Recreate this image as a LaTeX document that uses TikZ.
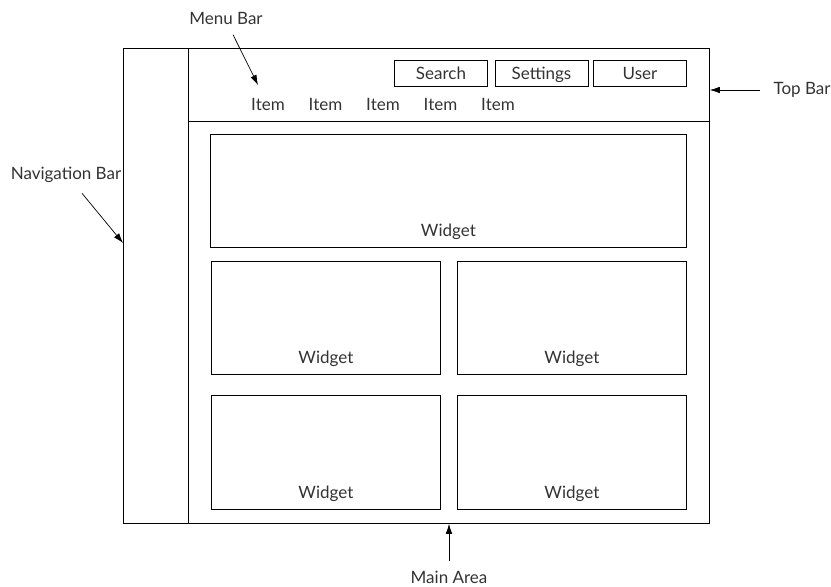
\documentclass[tikz,border=0pt]{standalone}
\usepackage{fontspec}
\setmainfont{Lato}
\usetikzlibrary{calc,positioning,arrows.meta}
\tikzset{
  frame/.style={draw, line width=0.8pt, inner sep=0pt, anchor=north west},
  btn/.style={draw, line width=0.8pt, minimum width=93pt, minimum height=26pt, inner sep=0pt,
    text height=13pt, text depth=1pt},
  txt/.style={text=black!80, font=\fontsize{17}{20}\selectfont},
  ptr/.style={-{Latex[length=10pt,width=6.5pt]}, line width=0.7pt}
}
\begin{document}
\begin{tikzpicture}[x=1pt,y=-1pt]
  \useasboundingbox (0,0) rectangle (831,587);
  % screen layout
  \node[frame, minimum width=586pt, minimum height=475pt] (window) at (123,48) {};
  \node[frame, minimum width=65pt, minimum height=475pt] (navbar) at (123,48) {};
  \node[frame, minimum width=521pt, minimum height=73pt] (topbar) at (188,48) {};
  \node[frame, minimum width=521pt, minimum height=402pt] (mainarea) at (188,121) {};
  % top bar contents
  \node[btn, txt] (search) at (441,73.5) {Search};
  \node[btn, txt] (settings) at (541.5,73.5) {Settings};
  \node[btn, txt] (user) at (640,73.5) {User};
  \foreach \i/\x in {1/268,2/325.5,3/383,4/440.5,5/498}
    \node[txt] (item\i) at (\x,104) {Item};
  % widgets
  \node[frame, minimum width=476pt, minimum height=113pt] (widget1) at (210,134) {};
  \node[frame, minimum width=229pt, minimum height=113pt] (widget2) at (211,261) {};
  \node[frame, minimum width=229pt, minimum height=113pt] (widget3) at (457,261) {};
  \node[frame, minimum width=229pt, minimum height=114pt] (widget4) at (211,395) {};
  \node[frame, minimum width=229pt, minimum height=114pt] (widget5) at (457,395) {};
  \foreach \w in {1,...,5}
    \node[txt] (wlabel\w) at ($(widget\w.south)+(0,-16)$) {Widget};
  % callouts
  \node[txt] (menulbl) at (226,18) {Menu Bar};
  \coordinate (menutip) at (258,85);
  \draw[ptr] ([xshift=7pt,yshift=-7pt]menulbl.south) -- (menutip);
  \node[txt] (navlbl) at (66,175) {Navigation Bar};
  \coordinate (navtip) at ($(navbar.north west)+(0,195)$);
  \draw[ptr] ([xshift=16pt,yshift=-7pt]navlbl.south) -- (navtip);
  \node[txt, anchor=west] (toplbl) at (770,90) {Top Bar};
  \draw[ptr, shorten <=10pt] (toplbl.west) -- (toplbl.west -| topbar.east);
  \node[txt] (mainlbl) at (449,577) {Main Area};
  \draw[ptr] ([yshift=6pt]mainlbl.north) -- (mainlbl.north |- mainarea.south);
\end{tikzpicture}
\end{document}
